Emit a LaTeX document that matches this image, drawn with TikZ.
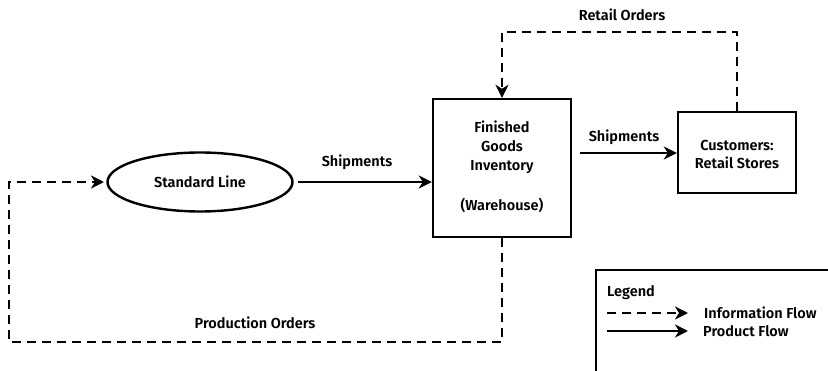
\documentclass[tikz,border=0pt]{standalone}
\usepackage{fontspec}
\setmainfont{Fira Sans}[BoldFont={Fira Sans SemiBold}]
\usetikzlibrary{arrows.meta,shapes.geometric}
\begin{document}
\begin{tikzpicture}[x=1pt,y=-1pt,
  txt/.style={font=\bfseries\fontsize{14.5}{19}\selectfont, inner sep=0pt, align=center},
  flow/.style={line width=2.4pt},
  info/.style={line width=2.4pt, dash pattern=on 9pt off 6pt},
  tip/.style={-{Stealth[length=13pt,width=13pt,inset=4pt]}},
  boxed/.style={draw, line width=2.4pt, inner sep=0pt}]
\useasboundingbox (0,0) rectangle (828,371);

% process and stores
\node[boxed, ellipse, minimum width=185pt, minimum height=59pt] (line) at (200,182) {};
\node[txt] (linetxt) at (200,182) {Standard Line};
\node[boxed, minimum width=138pt, minimum height=138pt] (fgi) at (502,168) {};
\node[txt] (fgitxt) at (502,147) {Finished\\Goods\\Inventory};
\node[txt] (whtxt) at (502,205) {(Warehouse)};
\node[boxed, minimum width=118pt, minimum height=81pt] (cust) at (737,152.5) {};
\node[txt, font=\bfseries\fontsize{14.5}{18}\selectfont] (custtxt) at (737,154) {Customers:\\Retail Stores};

% product flows
\coordinate (s1a) at (298,182);
\coordinate (s1b) at (fgi.west |- s1a);
\draw[flow,tip] (s1a) -- (s1b);
\node[txt] (ship1) at (357,162) {Shipments};
\coordinate (s2a) at (580,153);
\coordinate (s2b) at (cust.west |- s2a);
\draw[flow,tip] (s2a) -- (s2b);
\node[txt] (ship2) at (624,137) {Shipments};

% retail orders
\coordinate (r1) at (737,32);
\coordinate (r2) at (502,32);
\draw[info,tip] (cust.north) -- (r1) -- (r2) -- (fgi.north);
\node[txt] (rotxt) at (622,15) {Retail Orders};

% production orders
\coordinate (p1) at (502,342);
\coordinate (p2) at (9,342);
\coordinate (p3) at (9,182);
\coordinate (p4) at (104,182);
\draw[info,tip] (fgi.south) -- (p1) -- (p2) -- (p3) -- (p4);
\node[txt] (potxt) at (255,323) {Production Orders};

% legend
\node[boxed, minimum width=233pt, minimum height=140pt, anchor=north west] (leg) at (595,269) {};
\node[txt, anchor=west] (legtxt) at (607,293) {Legend};
\coordinate (la) at (607,313);
\coordinate (lb) at (688,313);
\draw[info,tip] (la) -- (lb);
\node[txt, anchor=west] (legi) at (704,313) {Information Flow};
\coordinate (lc) at (607,331);
\coordinate (ld) at (688,331);
\draw[flow,tip] (lc) -- (ld);
\node[txt, anchor=west] (legp) at (703,331) {Product Flow};
\end{tikzpicture}
\end{document}
